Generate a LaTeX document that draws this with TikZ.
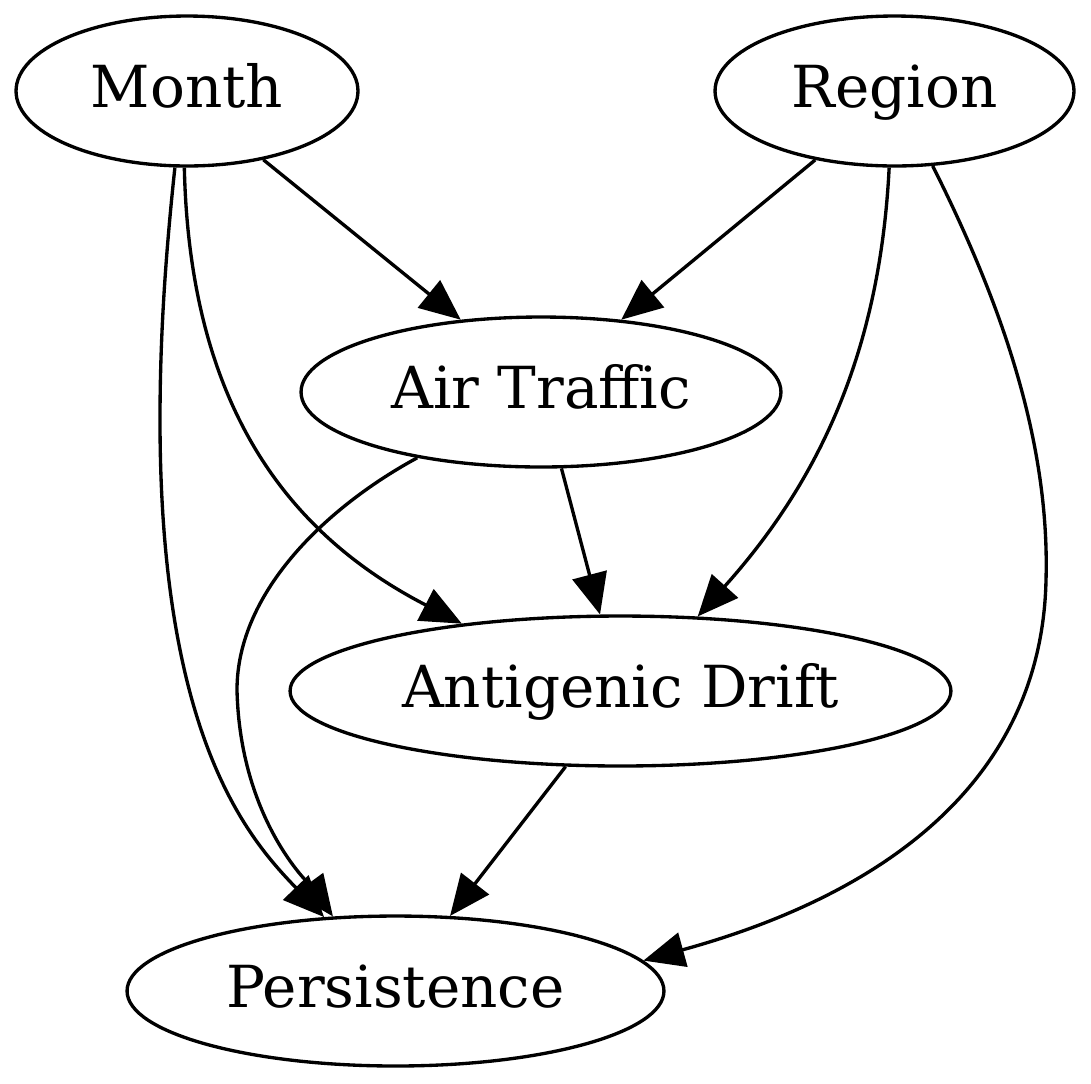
\documentclass[tikz,border=0pt]{standalone}
\usepackage{fontspec}
\setmainfont{DejaVu Serif}
\usetikzlibrary{shapes.geometric}
\usetikzlibrary{arrows.meta}

\begin{document}
\begin{tikzpicture}[x=0.02cm, y=-0.02cm, line width=1.9pt, >={Triangle[length=0.82cm,width=0.7cm]},
  var/.style={ellipse, draw, inner sep=0pt, minimum height=3cm, font=\fontsize{33}{40}\selectfont, text height=26pt, text depth=7pt}]
  \useasboundingbox (0,0) rectangle (1091,1083);
  \node (m) [var, minimum width=6.84cm] at (187,91) {Month};
  \node (r) [var, minimum width=7.18cm] at (894.5,91) {Region};
  \node (a) [var, minimum width=9.6cm] at (541,392) {Air Traffic};
  \node (d) [var, minimum width=13.22cm] at (620.5,691) {Antigenic Drift};
  \node (p) [var, minimum width=10.74cm] at (395.5,991) {Persistence};
  \draw[->] (m.-42) -- (a.138);
  \draw[->] (r.-139) -- (a.42);
  \draw[->] (a.-75) -- (d.105);
  \draw[->] (d.-126) -- (p.54);
  \draw[->] (m.-99) .. controls (165,260) and (160,340) .. (160,420)
                    .. controls (160,740) and (250,840) .. (p.134);
  \draw[->] (m.-92) .. controls (190,420) and (300,540) .. (d.157);
  \draw[->] (a.-152) .. controls (330,505) and (237,590) .. (237,690)
                     .. controls (240,820) and (310,885) .. (p.130);
  \draw[->] (r.-94) .. controls (880,350) and (820,480) .. (d.44);
  \draw[->] (r.-63) .. controls (1000,300) and (1050,440) .. (1046,580)
                    .. controls (1042,770) and (900,890) .. (p.7);
\end{tikzpicture}
\end{document}
